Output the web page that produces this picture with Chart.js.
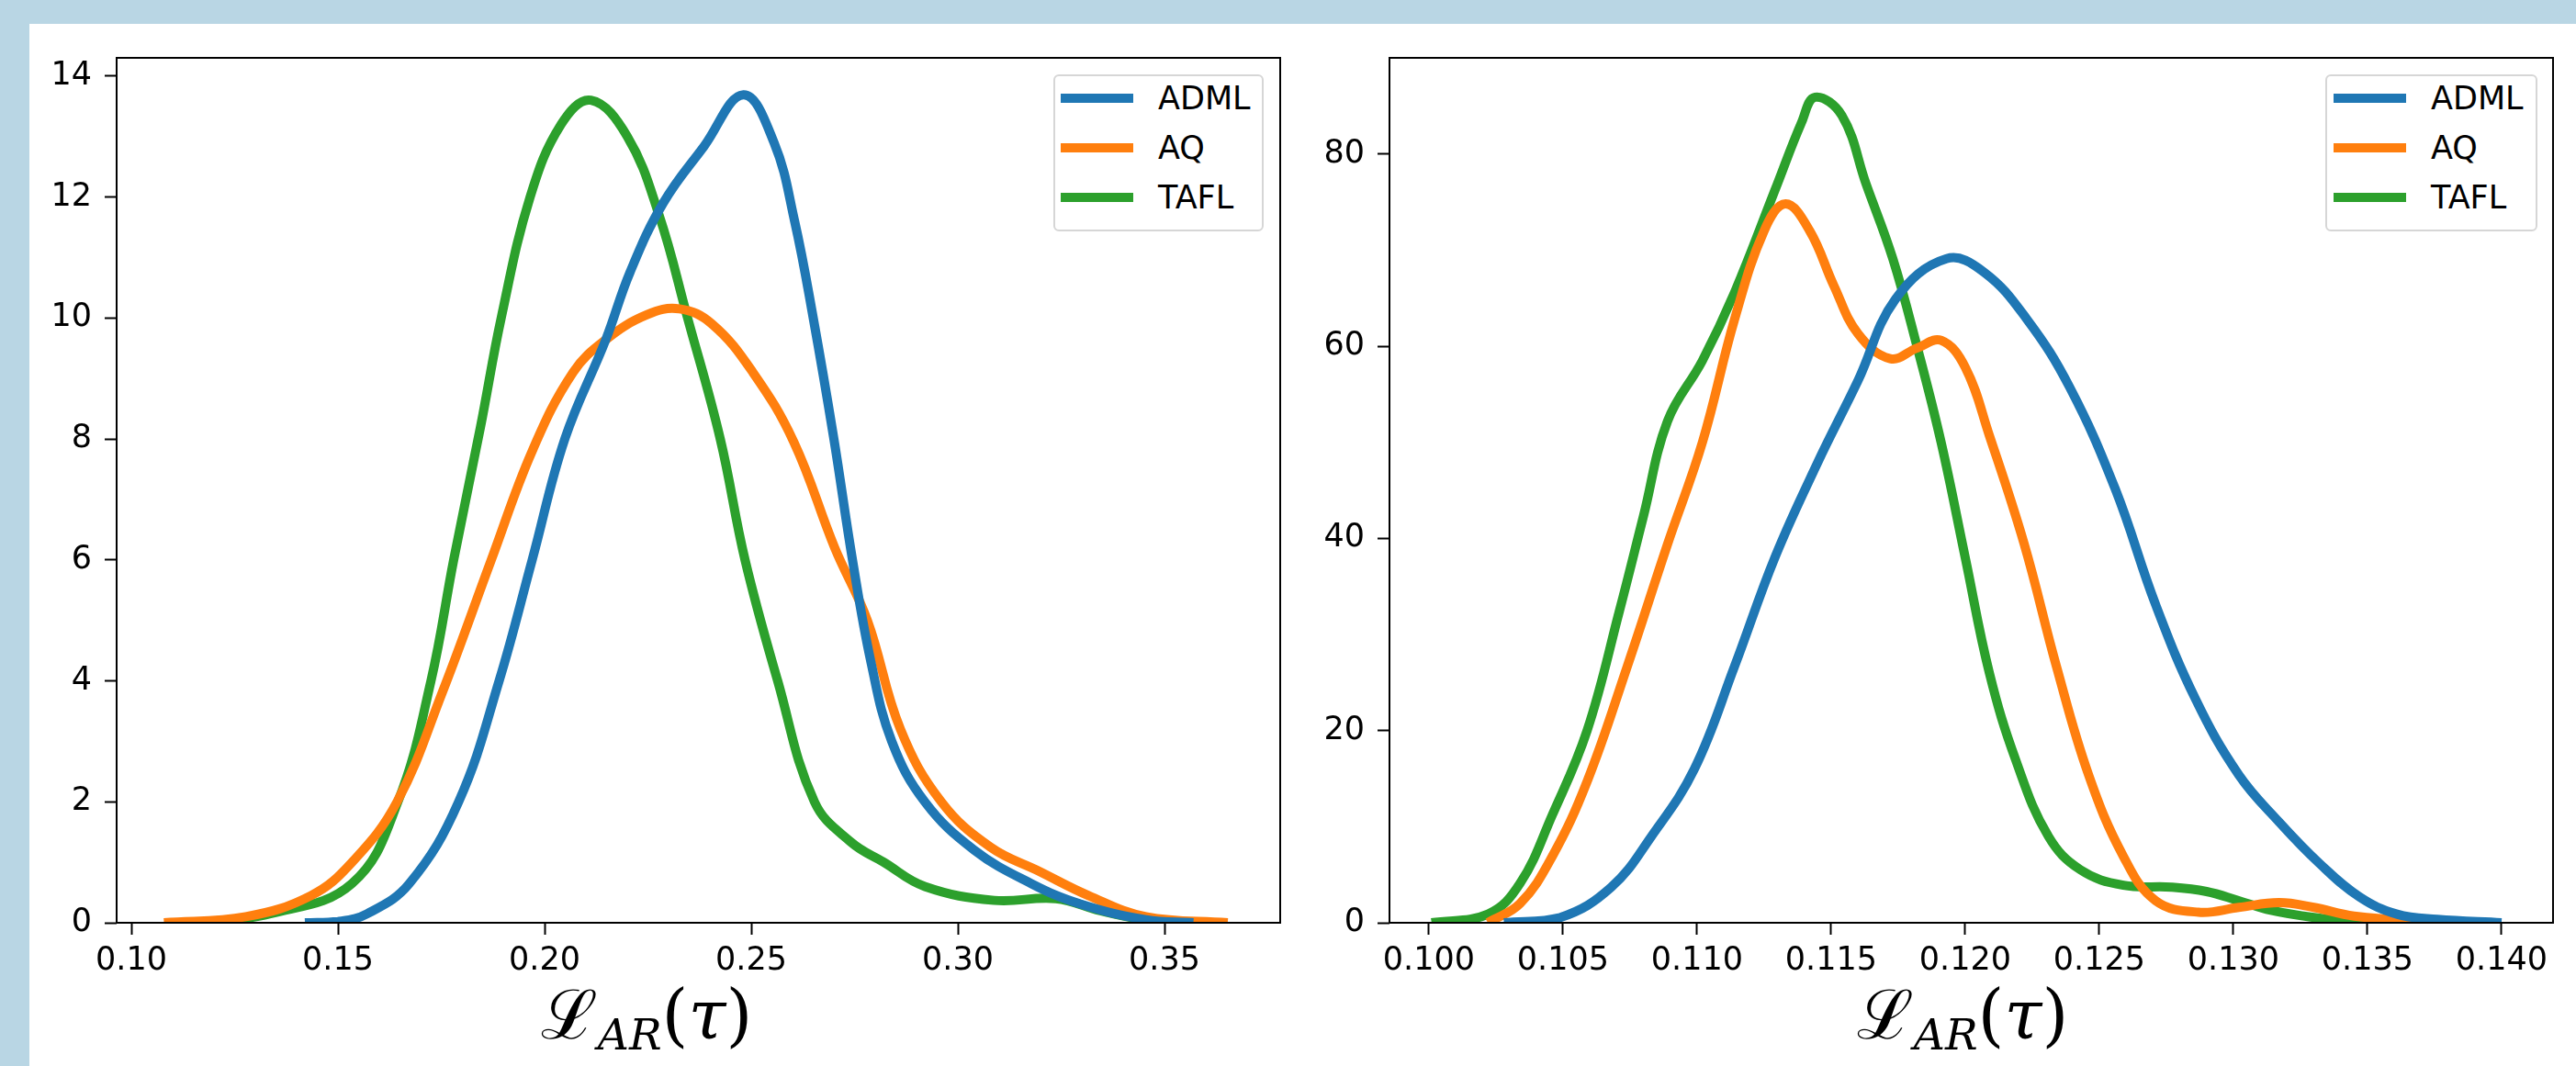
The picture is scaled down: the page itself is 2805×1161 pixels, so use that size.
<!DOCTYPE html>
<html>
<head>
<meta charset="utf-8">
<script src="https://cdn.jsdelivr.net/npm/chart.js@4.4.1/dist/chart.umd.min.js"></script>
<style>
    html, body { margin: 0; padding: 0; }
    body {
        width: 2805px; height: 1161px; position: relative; overflow: hidden;
        background: #b9d6e4; font-family: "DejaVu Sans", sans-serif;
    }
    #sheet { position: absolute; left: 32px; top: 26px; right: 0; bottom: 0; background: #fff; }
    .panel { position: absolute; top: 26px; height: 1135px; }
    #leftPanel { left: 32px; width: 1388px; }
    #rightPanel { left: 1420px; width: 1385px; }
    .legend {
        position: absolute; top: 81px; height: 171px; box-sizing: border-box;
        border: 2px solid #d6d6d6; border-radius: 6px; background: #fff;
    }
    .legend .handle { position: absolute; width: 79px; height: 10px; }
    .legend .label { position: absolute; font-size: 35px; line-height: 40px; color: #000; }
    .xlabel {
        position: absolute; width: 400px; text-align: center; white-space: nowrap;
        font-family: "DejaVu Serif", serif; font-size: 74px; line-height: 1; color: #000;
    }
    .xlabel .sub { font-style: italic; font-size: 0.64em; position: relative; top: 0.26em; }
    .xlabel i { font-style: italic; }
</style>
</head>
<body>
<div id="sheet"></div>
<div class="panel" id="leftPanel"><canvas id="leftChart"></canvas></div>
<div class="panel" id="rightPanel"><canvas id="rightChart"></canvas></div>
<div class="legend" id="leftLegend" style="left:1147px; width:229px;"></div>
<div class="legend" id="rightLegend" style="left:2532px; width:231px;"></div>
<div class="xlabel" style="left:504px; top:1068px;">ℒ<span class="sub">AR</span>(<i>τ</i>)</div>
<div class="xlabel" style="left:1937px; top:1068px;">ℒ<span class="sub">AR</span>(<i>τ</i>)</div>

<script>
"use strict";

const seriesNames = ["ADML", "AQ", "TAFL"];
const seriesColors = ["#1f77b4", "#ff7f0e", "#2ca02c"];

// --- left panel values
const leftAdmlX = [0.142, 0.150, 0.1571, 0.1673, 0.1792, 0.189, 0.197, 0.2049, 0.2148, 0.2207, 0.2287, 0.2386, 0.2481, 0.2555, 0.2605, 0.265, 0.270, 0.2745, 0.279, 0.284, 0.292, 0.304, 0.3177, 0.3296, 0.3455, 0.357];
const leftAdmlY = [0, 0.02, 0.15, 0.65, 2.0, 4.0, 6.0, 8.0, 9.64, 10.76, 11.9, 12.84, 13.69, 12.9, 11.6, 10.0, 8.0, 6.0, 4.3, 3.0, 2.0, 1.2, 0.65, 0.31, 0.05, 0];
const leftAqX = [0.1079, 0.1277, 0.1435, 0.1534, 0.1643, 0.1752, 0.1871, 0.197, 0.2069, 0.2148, 0.2247, 0.2326, 0.2405, 0.2504, 0.2603, 0.2702, 0.2781, 0.2861, 0.296, 0.3079, 0.3197, 0.3316, 0.3455, 0.3653];
const leftAqY = [0, 0.1, 0.45, 1.0, 2.0, 3.8, 6.0, 7.8, 9.1, 9.64, 10.05, 10.15, 9.9, 9.1, 7.95, 6.2, 5.0, 3.2, 2.0, 1.25, 0.85, 0.45, 0.1, 0];
const leftTaflX = [0.1158, 0.1336, 0.1534, 0.1645, 0.1725, 0.178, 0.1845, 0.1895, 0.1965, 0.204, 0.2112, 0.22, 0.2277, 0.2346, 0.2425, 0.2485, 0.2564, 0.2653, 0.2742, 0.2821, 0.292, 0.3088, 0.3237, 0.3345, 0.3455, 0.357];
const leftTaflY = [0, 0.15, 0.65, 2.0, 4.0, 6.0, 8.2, 10.0, 12.0, 13.2, 13.6, 13.0, 11.7, 10.0, 8.0, 6.0, 4.0, 2.0, 1.33, 1.0, 0.6, 0.37, 0.4, 0.2, 0.05, 0];
const leftXTicks = [0.10, 0.15, 0.20, 0.25, 0.30, 0.35];
const leftYTicks = [0, 2, 4, 6, 8, 10, 12, 14];

// --- right panel values
const rightAdmlX = [0.1028, 0.1049, 0.1068, 0.1083, 0.1099, 0.1114, 0.1129, 0.1145, 0.116, 0.1174, 0.1193, 0.1207, 0.1223, 0.1239, 0.1256, 0.1271, 0.1286, 0.1302, 0.1317, 0.1332, 0.1347, 0.1361, 0.1376, 0.140];
const rightAdmlY = [0, 0.55, 3.7, 9.0, 16.0, 26.7, 38.0, 47.9, 56.4, 64.9, 69.1, 67.7, 62.8, 55.7, 45.1, 33.1, 23.2, 15.4, 10.5, 6.2, 2.7, 0.9, 0.35, 0];
const rightAqX = [0.1022, 0.1034, 0.1046, 0.1059, 0.1074, 0.1089, 0.1102, 0.1114, 0.1125, 0.1133, 0.1142, 0.1151, 0.116, 0.1172, 0.1182, 0.1191, 0.120, 0.1209, 0.1222, 0.1234, 0.1246, 0.1259, 0.1271, 0.1287, 0.1302, 0.1317, 0.133, 0.1345, 0.1379];
const rightAqY = [0, 2.0, 6.9, 14.7, 26.7, 39.4, 50.0, 62.8, 72.0, 74.8, 72.0, 66.3, 61.3, 58.7, 59.8, 60.6, 57.8, 50.7, 39.4, 26.7, 15.4, 6.9, 2.3, 1.1, 1.6, 2.1, 1.6, 0.7, 0];
const rightTaflX = [0.1001, 0.1022, 0.1034, 0.1046, 0.1059, 0.1071, 0.108, 0.1089, 0.1102, 0.1114, 0.1129, 0.1139, 0.1144, 0.1154, 0.1163, 0.1173, 0.1182, 0.1191, 0.120, 0.1209, 0.1219, 0.1231, 0.1243, 0.1259, 0.1277, 0.129, 0.1302, 0.1314, 0.133, 0.135];
const rightTaflY = [0, 0.9, 4.1, 11.2, 20.0, 32.4, 42.3, 52.2, 58.5, 65.6, 76.2, 83.3, 85.9, 84.0, 76.9, 69.1, 60.0, 50.0, 38.0, 26.0, 16.8, 9.0, 5.5, 3.9, 3.7, 3.25, 2.3, 1.3, 0.55, 0];
const rightXTicks = [0.100, 0.105, 0.110, 0.115, 0.120, 0.125, 0.130, 0.135, 0.140];
const rightYTicks = [0, 20, 40, 60, 80];

const pairUp = (xs, ys) => xs.map((x, i) => ({ x: x, y: ys[i] }));

// box round the plot area, like the axes spines
const framePlugin = {
    id: "frame",
    afterDatasetsDraw(chart) {
        const { ctx, chartArea: a } = chart;
        ctx.save();
        ctx.strokeStyle = "#000";
        ctx.lineWidth = 2;
        ctx.strokeRect(a.left, a.top, a.right - a.left, a.bottom - a.top);
        ctx.restore();
    },
};

function makeChart(canvasId, legendId, opts) {
    const ctx = document.getElementById(canvasId).getContext("2d");
    const datasets = opts.series.map((s, i) => ({
        label: seriesNames[i],
        data: pairUp(s[0], s[1]),
        borderColor: seriesColors[i],
        backgroundColor: seriesColors[i],
        borderWidth: 10,
        borderJoinStyle: "round",
        pointRadius: 0,
        tension: 0.4,
        fill: false,
        clip: 0,
    }));

    const chart = new Chart(ctx, {
        type: "line",
        data: { datasets: datasets },
        options: {
            responsive: true,
            maintainAspectRatio: false,
            animation: false,
            layout: { padding: { top: 37, left: 0, right: opts.padRight, bottom: 0 } },
            plugins: { legend: { display: false }, tooltip: { enabled: false } },
            scales: {
                x: {
                    type: "linear",
                    min: opts.xMin,
                    max: opts.xMax,
                    afterBuildTicks: (s) => { s.ticks = opts.xTicks.map((v) => ({ value: v })); },
                    afterFit: (s) => { s.height = 156; },
                    border: { display: false },
                    grid: { drawOnChartArea: false, drawTicks: true, tickLength: 13, tickWidth: 2, tickColor: "#000" },
                    ticks: {
                        autoSkip: false, maxRotation: 0, padding: 8, color: "#000",
                        font: { family: "DejaVu Sans", size: 35 },
                        callback: (v) => v.toFixed(opts.xDigits),
                    },
                },
                y: {
                    type: "linear",
                    min: 0,
                    max: opts.yMax,
                    afterBuildTicks: (s) => { s.ticks = opts.yTicks.map((v) => ({ value: v })); },
                    afterFit: (s) => { s.width = opts.yWidth; },
                    border: { display: false },
                    grid: { drawOnChartArea: false, drawTicks: true, tickLength: 13, tickWidth: 2, tickColor: "#000" },
                    ticks: {
                        padding: 14, color: "#000",
                        font: { family: "DejaVu Sans", size: 35 },
                        callback: (v) => String(v),
                    },
                },
            },
        },
        plugins: [framePlugin],
    });

    // legend in the corner, built from the datasets
    const box = document.getElementById(legendId);
    chart.data.datasets.forEach((ds, i) => {
        const cy = 26 + i * 54;
        const h = document.createElement("div");
        h.className = "handle";
        h.style.left = opts.handleLeft + "px";
        h.style.top = (cy - 5 - 2) + "px";
        h.style.background = ds.borderColor;
        box.appendChild(h);
        const t = document.createElement("div");
        t.className = "label";
        t.style.left = (opts.handleLeft + 106) + "px";
        t.style.top = (cy - 20 - 2) + "px";
        t.textContent = ds.label;
        box.appendChild(t);
    });
    return chart;
}

document.addEventListener("DOMContentLoaded", function () {
    makeChart("leftChart", "leftLegend", {
        series: [[leftAdmlX, leftAdmlY], [leftAqX, leftAqY], [leftTaflX, leftTaflY]],
        xMin: 0.09644, xMax: 0.3780, xTicks: leftXTicks, xDigits: 2,
        yMax: 14.3, yTicks: leftYTicks, yWidth: 95, padRight: 26, handleLeft: 6,
    });
    makeChart("rightChart", "rightLegend", {
        series: [[rightAdmlX, rightAdmlY], [rightAqX, rightAqY], [rightTaflX, rightTaflY]],
        xMin: 0.09853, xMax: 0.14192, xTicks: rightXTicks, xDigits: 3,
        yMax: 90.0, yTicks: rightYTicks, yWidth: 93, padRight: 25, handleLeft: 7,
    });
});
</script>
</body>
</html>
